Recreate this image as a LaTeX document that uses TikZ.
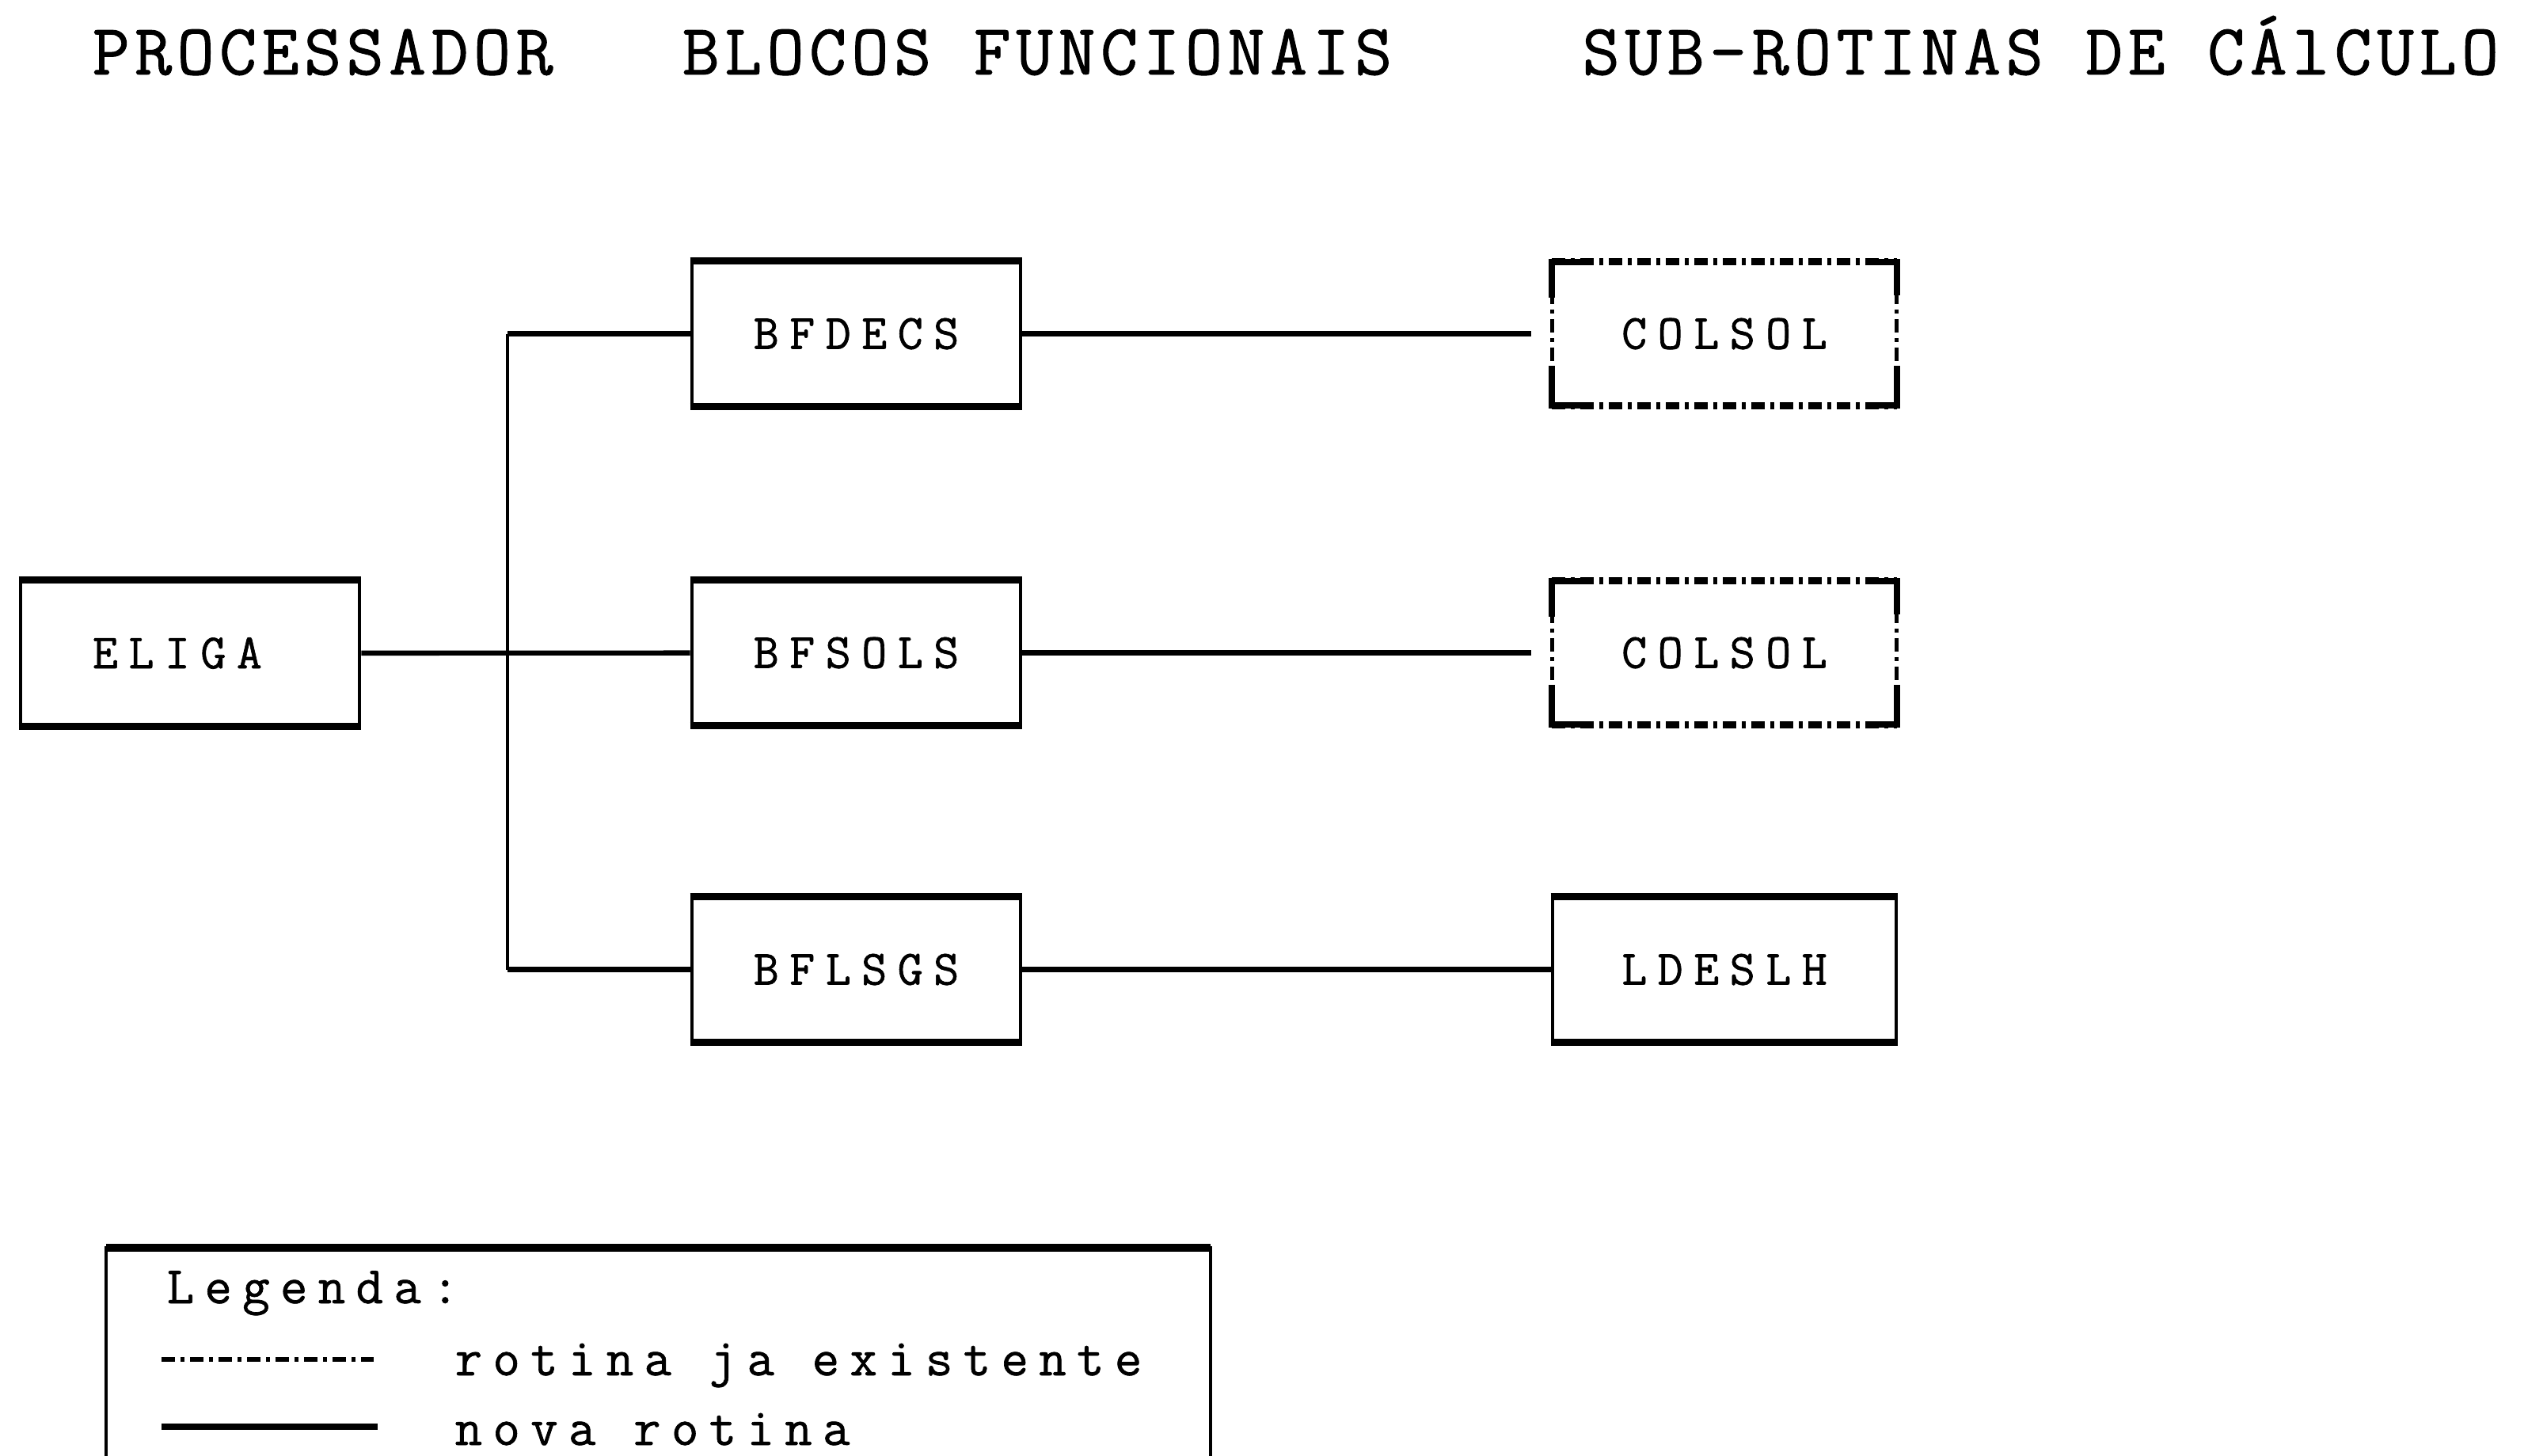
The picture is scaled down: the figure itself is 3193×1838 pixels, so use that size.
\documentclass[tikz,border=0pt]{standalone}
\usepackage{fontspec}
% typewriter-style faces: wider tracking for the box and legend labels
\newfontfamily\headfont{Latin Modern Mono}[LetterSpace=7,FakeBold=1]
\newfontfamily\labelfont{Latin Modern Mono}[LetterSpace=21.6,FakeBold=1]
\newfontfamily\legendfont{Latin Modern Mono}[LetterSpace=20,FakeBold=1]
\begin{document}
\begin{tikzpicture}[x=0.01cm,y=-0.01cm,
  heading/.style={anchor=base west, inner sep=0pt,
    font=\headfont\fontsize{26pt}{30pt}\selectfont},
  labeltext/.style={inner sep=0pt,
    font=\labelfont\fontsize{17.7pt}{21pt}\selectfont},
  legendtext/.style={anchor=base west, inner sep=0pt,
    font=\legendfont\fontsize{19pt}{23pt}\selectfont},
  newbox/.style={labeltext, draw, line width=1.3pt,
    minimum width=4.15cm, minimum height=1.8cm},
  oldbox/.style={labeltext, minimum width=4.34cm, minimum height=1.8cm},
  heavyedge/.style={line width=2.6pt},
  cornerpiece/.style={line width=2.2pt},
  wire/.style={line width=1.8pt},
  buswire/.style={line width=1.3pt},
  olddash/.style={line width=1.5pt,
    dash pattern=on 0.17cm off 0.07cm on 0.05cm off 0.07cm},
  oldheavy/.style={olddash, line width=2.6pt}]

\useasboundingbox (0,0) rectangle (3193,1838);
\clip (0,0) rectangle (3193,1838);

% column headings
\node[heading] (h1) at (116,94) {PROCESSADOR};
\node[heading] (h2) at (861,94) {BLOCOS FUNCIONAIS};
\node[heading] (h3) at (1998,94) {SUB-ROTINAS DE CÁlCULO};

% processor
\node[newbox, minimum width=4.28cm] (eliga) at (240,825) {\hspace*{-0.32cm}ELIGA};

% functional blocks
\node[newbox] (bfdecs) at (1081.5,421.5) {BFDECS};
\node[newbox] (bfsols) at (1081.5,824.5) {BFSOLS};
\node[newbox] (bflsgs) at (1081.5,1224.5) {BFLSGS};

% calculation routines
\node[oldbox] (col1) at (2178,421.5) {COLSOL};
\node[oldbox] (col2) at (2178,824.5) {COLSOL};
\node[newbox, minimum width=4.34cm] (ldeslh) at (2178,1224.5) {LDESLH};

% heavier top and bottom rules on the solid boxes
\foreach \b in {eliga,bfdecs,bfsols,bflsgs,ldeslh}{
  \draw[heavyedge] (\b.north west) -- (\b.north east);
  \draw[heavyedge] (\b.south west) -- (\b.south east);
}
% dotted frames of the existing routines, with solid corners
\foreach \b in {col1,col2}{
  \draw[oldheavy] (\b.north west) -- (\b.north east);
  \draw[oldheavy] (\b.south west) -- (\b.south east);
  \draw[olddash] (\b.north west) -- (\b.south west);
  \draw[olddash] (\b.north east) -- (\b.south east);
  \draw[cornerpiece] ([yshift=-0.45cm]\b.north west) |- ([xshift=0.36cm]\b.north west);
  \draw[cornerpiece] ([yshift=-0.42cm]\b.north east) |- ([xshift=-0.3cm]\b.north east);
  \draw[cornerpiece] ([yshift=0.5cm]\b.south west) |- ([xshift=0.36cm]\b.south west);
  \draw[cornerpiece] ([yshift=0.5cm]\b.south east) |- ([xshift=-0.3cm]\b.south east);
}

% connectors
\coordinate (bus) at (641,825);
\draw[wire] (eliga) -- (bfsols);
\draw[buswire] (bfdecs.west -| bus) -- (bflsgs.west -| bus);
\draw[wire] (bfdecs.west -| bus) -- (bfdecs.west);
\draw[wire] (bflsgs.west -| bus) -- (bflsgs.west);
\draw[wire, shorten >=0.26cm] (bfdecs) -- (col1);
\draw[wire, shorten >=0.26cm] (bfsols) -- (col2);
\draw[wire] (bflsgs) -- (ldeslh);

% legend
\draw[line width=1.1pt] (134,1860) -- (134,1576) -- (1529,1576) -- (1529,1860);
\draw[heavyedge] (134,1576) -- (1529,1576);
\node[legendtext] (legtitle) at (210,1646) {Legenda:};
\coordinate (olda) at (204,1717);
\coordinate (oldb) at (472,1717);
\draw[olddash] (olda) -- (oldb);
\node[legendtext] (legold) at (574,1737) {rotina ja existente};
\coordinate (newa) at (204,1802);
\coordinate (newb) at (477,1802);
\draw[line width=2.4pt] (newa) -- (newb);
\node[legendtext] (legnew) at (574,1825) {nova rotina};
\end{tikzpicture}
\end{document}
